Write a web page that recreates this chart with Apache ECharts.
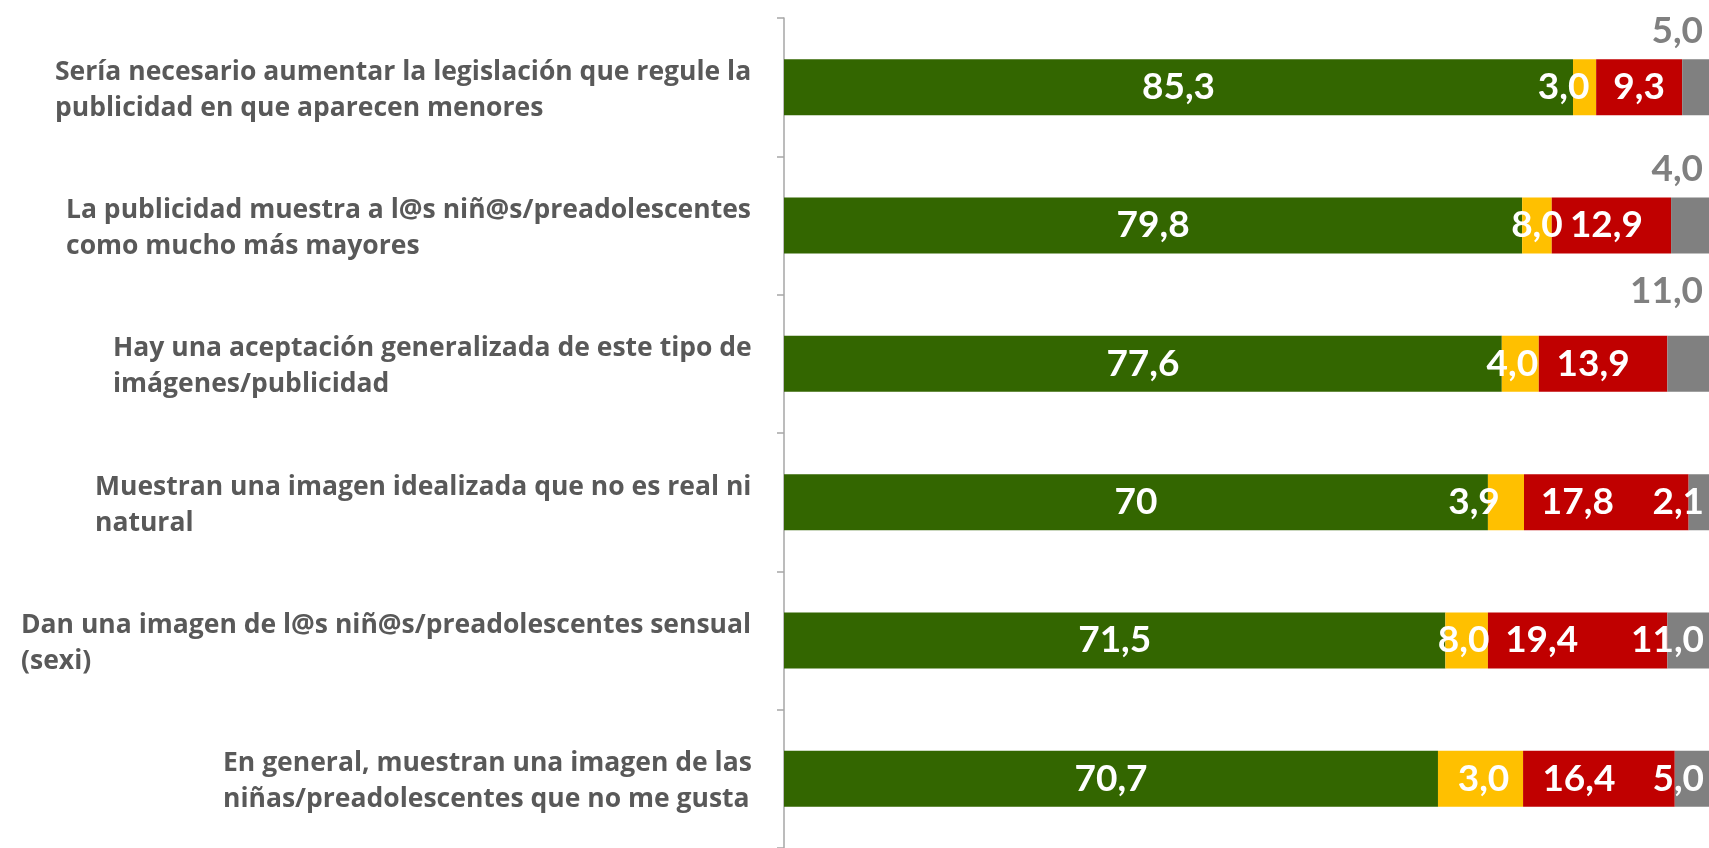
<!DOCTYPE html>
<html>
<head>
<meta charset="utf-8">
<script src="https://cdn.jsdelivr.net/npm/echarts@6/dist/echarts.min.js"></script>
<style>
  html, body { margin: 0; padding: 0; background: #fff; }
  #chart { width: 1709px; height: 848px; }
</style>
</head>
<body>
<div id="chart"></div>
<script>
// categorias (de arriba abajo)
const categories = [
  'Sería necesario aumentar la legislación que regule la\npublicidad en que aparecen menores',
  'La publicidad muestra a l@s niñ@s/preadolescentes\ncomo mucho más mayores',
  'Hay una aceptación generalizada de este tipo de\nimágenes/publicidad',
  'Muestran una imagen idealizada que no es real ni\nnatural',
  'Dan una imagen de l@s niñ@s/preadolescentes sensual\n(sexi)',
  'En general, muestran una imagen de las\nniñas/preadolescentes que no me gusta'
]
// longitud de las barras
const greenVals = [85.3, 79.8, 77.6, 76.1, 71.5, 70.7]
const yellowVals = [2.5, 3.2, 4.0, 3.9, 4.6, 9.2]
const redVals = [9.3, 12.9, 13.9, 17.8, 19.4, 16.4]
const greyVals = [2.9, 4.1, 4.5, 2.2, 4.5, 3.7]
// textos de las etiquetas tal como aparecen
const greenLabels = ['85,3', '79,8', '77,6', '70', '71,5', '70,7']
const yellowLabels = ['3,0', '8,0', '4,0', '3,9', '8,0', '3,0']
const redLabels = ['9,3', '12,9', '13,9', '17,8', '19,4', '16,4']
const greyLabels = ['5,0', '4,0', '11,0', '2,1', '11,0', '5,0']

const valueFont = { fontFamily: 'Lato', fontWeight: 'bold', fontSize: 37 }
const catFont = 'Open Sans'
const catSize = 26.5
const yellowShift = [-21, 0, -8, -32, -3, 3]
const redShift = [0, -5, -10, -29, -36, -20]
const greyLift = [-10, -10, -26] // etiquetas grises encima de la barra

// ancho de cada bloque de texto para alinear las lineas a la izquierda
const ctx = document.createElement('canvas').getContext('2d')
ctx.font = 'bold ' + catSize + 'px "' + catFont + '"'
const rich = {}
categories.forEach((c, i) => {
  const w = Math.max(...c.split('\n').map(l => ctx.measureText(l).width))
  rich['r' + i] = {
    width: Math.ceil(w) + 1,
    align: 'left',
    fontFamily: catFont,
    fontWeight: 'bold',
    fontSize: catSize,
    lineHeight: 36,
    color: '#595959'
  }
})

function makeSeries(name, color, vals, labels, shift) {
  return {
    name: name,
    type: 'bar',
    stack: 'total',
    barWidth: 56,
    itemStyle: { color: color },
    label: Object.assign({ show: true, position: 'inside', color: '#fff' }, valueFont),
    data: vals.map((v, i) => ({
      value: v,
      label: { formatter: labels[i], offset: [shift ? shift[i] : 0, 0] }
    }))
  }
}

const greySeries = makeSeries('Gris', '#808080', greyVals, greyLabels)
greySeries.data.forEach((d, i) => {
  if (i < greyLift.length) {
    d.label.position = ['100%', greyLift[i]]
    d.label.align = 'right'
    d.label.verticalAlign = 'bottom'
    d.label.offset = [-6, 0]
    d.label.color = '#808080'
  } else {
    d.label.position = 'insideRight'
    d.label.distance = 5
  }
})

const chart = echarts.init(document.getElementById('chart'))
chart.setOption({
  animation: false,
  grid: { left: 784, right: 0, top: 18, height: 833 },
  xAxis: {
    type: 'value',
    min: 0,
    max: 100,
    show: false
  },
  yAxis: {
    type: 'category',
    inverse: true,
    data: categories,
    axisLine: { show: true, lineStyle: { color: '#a6a6a6', width: 1.5 } },
    axisTick: { show: true, length: 7, lineStyle: { color: '#a6a6a6', width: 1.5 } },
    axisLabel: {
      margin: 31,
      align: 'right',
      padding: [6, 0, 0, 0],
      formatter: (value, index) => value.split('\n').map(l => '{r' + index + '|' + l + '}').join('\n'),
      rich: rich
    }
  },
  series: [
    makeSeries('Verde', '#336600', greenVals, greenLabels),
    makeSeries('Amarillo', '#ffc000', yellowVals, yellowLabels, yellowShift),
    makeSeries('Rojo', '#c00000', redVals, redLabels, redShift),
    greySeries
  ]
})
</script>
</body>
</html>
